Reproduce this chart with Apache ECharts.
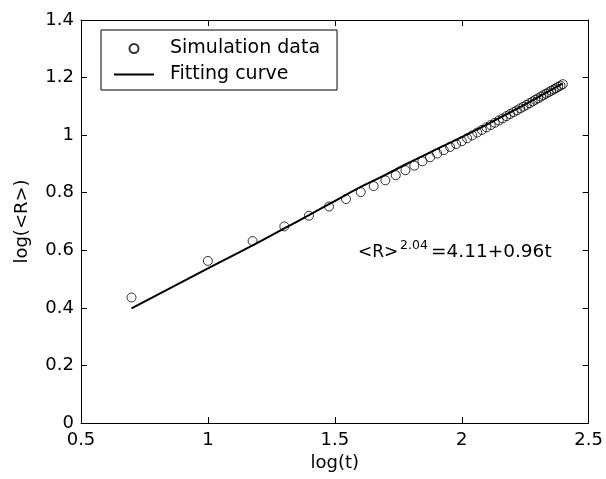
<!DOCTYPE html>
<html><head><meta charset="utf-8">
<script src="https://cdn.jsdelivr.net/npm/echarts@6/dist/echarts.min.js"></script>
<style>html,body{margin:0;padding:0;background:#fff}#c{width:606px;height:479px}</style>
</head><body><div id="c"></div>
<script>
// tick labels
const xTicks = ['0.5', '1', '1.5', '2', '2.5'];
const yTicks = ['0', '0.2', '0.4', '0.6', '0.8', '1', '1.2', '1.4'];
// simulation data: log(t) and log(<R>)
const simLogT = [0.699, 1.000, 1.176, 1.301, 1.398, 1.477, 1.544, 1.602, 1.653, 1.699,
  1.740, 1.778, 1.813, 1.845, 1.875, 1.903, 1.929, 1.954, 1.978, 2.000,
  2.021, 2.041, 2.061, 2.079, 2.097, 2.114, 2.130, 2.146, 2.161, 2.176,
  2.190, 2.204, 2.217, 2.230, 2.243, 2.255, 2.267, 2.279, 2.290, 2.301,
  2.312, 2.322, 2.332, 2.342, 2.352, 2.362, 2.371, 2.380, 2.389, 2.398];
const simLogR = [0.436, 0.563, 0.632, 0.683, 0.720, 0.752, 0.778, 0.802, 0.823, 0.843,
  0.861, 0.878, 0.894, 0.909, 0.923, 0.936, 0.948, 0.959, 0.969, 0.979,
  0.989, 0.999, 1.009, 1.018, 1.027, 1.035, 1.043, 1.051, 1.058, 1.066,
  1.073, 1.080, 1.086, 1.093, 1.099, 1.105, 1.111, 1.117, 1.123, 1.128,
  1.134, 1.139, 1.144, 1.149, 1.154, 1.159, 1.163, 1.168, 1.172, 1.177];
// fitting curve
const fitLogT = [0.699, 1.000, 1.176, 1.301, 1.398, 1.477, 1.602, 1.699, 1.778, 1.903, 2.000, 2.097, 2.204, 2.301, 2.398];
const fitLogR = [0.398, 0.537, 0.617, 0.676, 0.722, 0.760, 0.820, 0.862, 0.898, 0.952, 0.993, 1.036, 1.085, 1.132, 1.180];

const FONT = 'DejaVu Sans';
const sim = simLogT.map((x, i) => [x, simLogR[i]]);
const fit = fitLogT.map((x, i) => [x, fitLogR[i]]);

const axisCommon = {
  axisLine: { show: true, onZero: false, lineStyle: { color: '#000', width: 1 } },
  axisTick: { show: true, inside: true, length: 6, lineStyle: { color: '#000' } },
  splitLine: { show: false },
  axisLabel: { color: '#000', fontFamily: FONT, fontSize: 18 }
};

const chart = echarts.init(document.getElementById('c'), null, { renderer: 'canvas' });
chart.setOption({
  animation: false,
  backgroundColor: '#fff',
  grid: { left: 81, right: 15, top: 20, bottom: 56, containLabel: false },
  xAxis: [
    Object.assign({}, axisCommon, {
      type: 'value', min: +xTicks[0], max: +xTicks[xTicks.length - 1], interval: 0.5,
      axisLabel: Object.assign({}, axisCommon.axisLabel, { margin: 8, formatter: v => String(+v.toFixed(2)) }),
      name: 'log(t)', nameLocation: 'middle', nameGap: 30,
      nameTextStyle: { color: '#000', fontFamily: FONT, fontSize: 18 }
    }),
    Object.assign({}, axisCommon, {
      type: 'value', position: 'top', min: +xTicks[0], max: +xTicks[xTicks.length - 1], interval: 0.5,
      axisLabel: { show: false }
    })
  ],
  yAxis: [
    Object.assign({}, axisCommon, {
      type: 'value', min: +yTicks[0], max: +yTicks[yTicks.length - 1], interval: 0.2,
      axisLabel: Object.assign({}, axisCommon.axisLabel, { margin: 7, formatter: v => String(+v.toFixed(2)) }),
      name: 'log(<R>)', nameLocation: 'middle', nameGap: 50,
      nameTextStyle: { color: '#000', fontFamily: FONT, fontSize: 18 }
    }),
    Object.assign({}, axisCommon, {
      type: 'value', position: 'right', min: +yTicks[0], max: +yTicks[yTicks.length - 1], interval: 0.2,
      axisLabel: { show: false }
    })
  ],
  legend: {
    left: 101, top: 30, orient: 'vertical',
    backgroundColor: '#fff', borderColor: '#000', borderWidth: 1, borderRadius: 0,
    padding: [9, 17, 6, 13], itemGap: 7, itemWidth: 40, itemHeight: 9,
    symbolKeepAspect: true,
    textStyle: { color: '#000', fontFamily: FONT, fontSize: 19, padding: [0, 0, 0, 11] },
    data: [
      { name: 'Simulation data', icon: 'circle' },
      { name: 'Fitting curve', icon: 'path://M0,0L40,0L40,2L0,2Z' }
    ]
  },
  series: [
    {
      name: 'Fitting curve', type: 'line', data: fit, symbol: 'none', smooth: true,
      lineStyle: { color: '#000', width: 2 }, itemStyle: { color: '#000' }, z: 2
    },
    {
      name: 'Simulation data', type: 'scatter', data: sim, symbol: 'circle', symbolSize: 9,
      itemStyle: { color: 'rgba(0,0,0,0)', borderColor: '#000', borderWidth: 1 }, z: 3
    }
  ],
  graphic: [
    { type: 'text', left: 358, top: 244, style: { text: '<R>', font: '17px "DejaVu Sans"', fill: '#000' } },
    { type: 'text', left: 400, top: 239, style: { text: '2.04', font: '12.5px "DejaVu Sans"', fill: '#000' } },
    { type: 'text', left: 431, top: 243, style: { text: '=4.11+0.96t', font: '18.5px "DejaVu Sans"', fill: '#000' } }
  ]
});
</script>
</body></html>
